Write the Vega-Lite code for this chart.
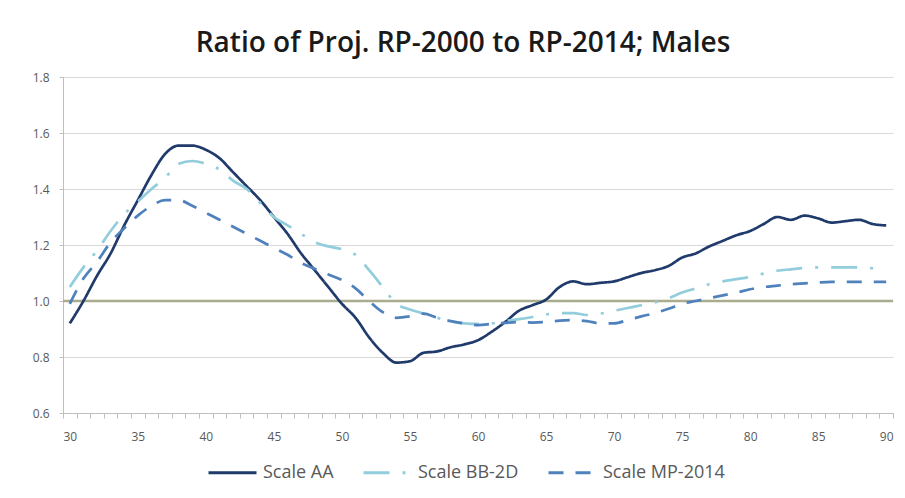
{
  "$schema": "https://vega.github.io/schema/vega-lite/v6.json",
  "autosize": {"type": "none"},
  "padding": {"left": 63, "top": 77, "right": 12, "bottom": 85},
  "width": 830,
  "height": 336,
  "background": "#ffffff",
  "title": {
    "text": "Ratio of Proj. RP-2000 to RP-2014; Males",
    "font": "Open Sans",
    "fontSize": 28,
    "fontWeight": 600,
    "color": "#1a1a1a",
    "anchor": "middle",
    "dx": -15,
    "offset": 13
  },
  "config": {
    "view": {"stroke": null},
    "axis": {
      "labelFont": "Open Sans",
      "labelFontSize": 12,
      "labelColor": "#595959",
      "domainColor": "#bfbfbf",
      "tickColor": "#bfbfbf",
      "gridColor": "#d9d9d9",
      "title": null
    },
    "legend": {
      "labelFont": "Open Sans",
      "labelFontSize": 18,
      "labelColor": "#595959"
    }
  },
  "data": {
    "values": [
      {"age": 30, "Scale AA": 0.92, "Scale BB-2D": 1.05, "Scale MP-2014": 0.99},
      {"age": 31, "Scale AA": 1.00, "Scale BB-2D": 1.12, "Scale MP-2014": 1.08},
      {"age": 32, "Scale AA": 1.09, "Scale BB-2D": 1.18, "Scale MP-2014": 1.14},
      {"age": 33, "Scale AA": 1.17, "Scale BB-2D": 1.25, "Scale MP-2014": 1.21},
      {"age": 34, "Scale AA": 1.27, "Scale BB-2D": 1.31, "Scale MP-2014": 1.26},
      {"age": 35, "Scale AA": 1.36, "Scale BB-2D": 1.355, "Scale MP-2014": 1.305},
      {"age": 36, "Scale AA": 1.45, "Scale BB-2D": 1.40, "Scale MP-2014": 1.34},
      {"age": 37, "Scale AA": 1.525, "Scale BB-2D": 1.44, "Scale MP-2014": 1.36},
      {"age": 38, "Scale AA": 1.555, "Scale BB-2D": 1.49, "Scale MP-2014": 1.36},
      {"age": 39, "Scale AA": 1.555, "Scale BB-2D": 1.50, "Scale MP-2014": 1.34},
      {"age": 40, "Scale AA": 1.54, "Scale BB-2D": 1.49, "Scale MP-2014": 1.315},
      {"age": 41, "Scale AA": 1.51, "Scale BB-2D": 1.47, "Scale MP-2014": 1.29},
      {"age": 42, "Scale AA": 1.46, "Scale BB-2D": 1.43, "Scale MP-2014": 1.265},
      {"age": 43, "Scale AA": 1.41, "Scale BB-2D": 1.40, "Scale MP-2014": 1.24},
      {"age": 44, "Scale AA": 1.36, "Scale BB-2D": 1.35, "Scale MP-2014": 1.215},
      {"age": 45, "Scale AA": 1.30, "Scale BB-2D": 1.30, "Scale MP-2014": 1.19},
      {"age": 46, "Scale AA": 1.24, "Scale BB-2D": 1.27, "Scale MP-2014": 1.165},
      {"age": 47, "Scale AA": 1.17, "Scale BB-2D": 1.24, "Scale MP-2014": 1.136},
      {"age": 48, "Scale AA": 1.11, "Scale BB-2D": 1.21, "Scale MP-2014": 1.115},
      {"age": 49, "Scale AA": 1.05, "Scale BB-2D": 1.195, "Scale MP-2014": 1.095},
      {"age": 50, "Scale AA": 0.99, "Scale BB-2D": 1.185, "Scale MP-2014": 1.075},
      {"age": 51, "Scale AA": 0.94, "Scale BB-2D": 1.165, "Scale MP-2014": 1.045},
      {"age": 52, "Scale AA": 0.87, "Scale BB-2D": 1.11, "Scale MP-2014": 1.00},
      {"age": 53, "Scale AA": 0.815, "Scale BB-2D": 1.05, "Scale MP-2014": 0.96},
      {"age": 54, "Scale AA": 0.78, "Scale BB-2D": 0.99, "Scale MP-2014": 0.94},
      {"age": 55, "Scale AA": 0.785, "Scale BB-2D": 0.97, "Scale MP-2014": 0.945},
      {"age": 56, "Scale AA": 0.815, "Scale BB-2D": 0.955, "Scale MP-2014": 0.955},
      {"age": 57, "Scale AA": 0.82, "Scale BB-2D": 0.94, "Scale MP-2014": 0.94},
      {"age": 58, "Scale AA": 0.835, "Scale BB-2D": 0.928, "Scale MP-2014": 0.928},
      {"age": 59, "Scale AA": 0.845, "Scale BB-2D": 0.92, "Scale MP-2014": 0.92},
      {"age": 60, "Scale AA": 0.86, "Scale BB-2D": 0.918, "Scale MP-2014": 0.914},
      {"age": 61, "Scale AA": 0.89, "Scale BB-2D": 0.92, "Scale MP-2014": 0.918},
      {"age": 62, "Scale AA": 0.925, "Scale BB-2D": 0.928, "Scale MP-2014": 0.922},
      {"age": 63, "Scale AA": 0.965, "Scale BB-2D": 0.935, "Scale MP-2014": 0.925},
      {"age": 64, "Scale AA": 0.985, "Scale BB-2D": 0.943, "Scale MP-2014": 0.923},
      {"age": 65, "Scale AA": 1.005, "Scale BB-2D": 0.952, "Scale MP-2014": 0.925},
      {"age": 66, "Scale AA": 1.05, "Scale BB-2D": 0.957, "Scale MP-2014": 0.93},
      {"age": 67, "Scale AA": 1.07, "Scale BB-2D": 0.957, "Scale MP-2014": 0.932},
      {"age": 68, "Scale AA": 1.06, "Scale BB-2D": 0.95, "Scale MP-2014": 0.928},
      {"age": 69, "Scale AA": 1.065, "Scale BB-2D": 0.955, "Scale MP-2014": 0.92},
      {"age": 70, "Scale AA": 1.07, "Scale BB-2D": 0.965, "Scale MP-2014": 0.92},
      {"age": 71, "Scale AA": 1.085, "Scale BB-2D": 0.975, "Scale MP-2014": 0.932},
      {"age": 72, "Scale AA": 1.10, "Scale BB-2D": 0.985, "Scale MP-2014": 0.945},
      {"age": 73, "Scale AA": 1.11, "Scale BB-2D": 0.995, "Scale MP-2014": 0.957},
      {"age": 74, "Scale AA": 1.125, "Scale BB-2D": 1.01, "Scale MP-2014": 0.972},
      {"age": 75, "Scale AA": 1.155, "Scale BB-2D": 1.03, "Scale MP-2014": 0.99},
      {"age": 76, "Scale AA": 1.17, "Scale BB-2D": 1.045, "Scale MP-2014": 1.00},
      {"age": 77, "Scale AA": 1.195, "Scale BB-2D": 1.06, "Scale MP-2014": 1.01},
      {"age": 78, "Scale AA": 1.215, "Scale BB-2D": 1.07, "Scale MP-2014": 1.02},
      {"age": 79, "Scale AA": 1.235, "Scale BB-2D": 1.078, "Scale MP-2014": 1.03},
      {"age": 80, "Scale AA": 1.25, "Scale BB-2D": 1.086, "Scale MP-2014": 1.042},
      {"age": 81, "Scale AA": 1.275, "Scale BB-2D": 1.098, "Scale MP-2014": 1.05},
      {"age": 82, "Scale AA": 1.30, "Scale BB-2D": 1.108, "Scale MP-2014": 1.055},
      {"age": 83, "Scale AA": 1.29, "Scale BB-2D": 1.113, "Scale MP-2014": 1.06},
      {"age": 84, "Scale AA": 1.305, "Scale BB-2D": 1.118, "Scale MP-2014": 1.063},
      {"age": 85, "Scale AA": 1.295, "Scale BB-2D": 1.12, "Scale MP-2014": 1.066},
      {"age": 86, "Scale AA": 1.28, "Scale BB-2D": 1.12, "Scale MP-2014": 1.068},
      {"age": 87, "Scale AA": 1.285, "Scale BB-2D": 1.12, "Scale MP-2014": 1.068},
      {"age": 88, "Scale AA": 1.29, "Scale BB-2D": 1.12, "Scale MP-2014": 1.068},
      {"age": 89, "Scale AA": 1.275, "Scale BB-2D": 1.117, "Scale MP-2014": 1.068},
      {"age": 90, "Scale AA": 1.27, "Scale BB-2D": 1.113, "Scale MP-2014": 1.068}
    ]
  },
  "layer": [
    {
      "data": {"values": [{"ref": 1.0}]},
      "mark": {"type": "rule", "color": "#a9ad8e", "strokeWidth": 2.5},
      "encoding": {
        "y": {"field": "ref", "type": "quantitative", "scale": {"domain": [0.6, 1.8]}}
      }
    },
    {
      "transform": [
        {"fold": ["Scale AA", "Scale BB-2D", "Scale MP-2014"], "as": ["series", "ratio"]}
      ],
      "mark": {"type": "line", "strokeWidth": 2.7, "interpolate": "monotone"},
      "encoding": {
        "x": {
          "field": "age",
          "type": "quantitative",
          "scale": {"domain": [29.5, 90.5], "nice": false, "zero": false},
          "axis": {
            "values": [29.5,30.5,31.5,32.5,33.5,34.5,35.5,36.5,37.5,38.5,39.5,40.5,41.5,42.5,43.5,44.5,45.5,46.5,47.5,48.5,49.5,50.5,51.5,52.5,53.5,54.5,55.5,56.5,57.5,58.5,59.5,60.5,61.5,62.5,63.5,64.5,65.5,66.5,67.5,68.5,69.5,70.5,71.5,72.5,73.5,74.5,75.5,76.5,77.5,78.5,79.5,80.5,81.5,82.5,83.5,84.5,85.5,86.5,87.5,88.5,89.5,90.5],
            "labelExpr": "datum.value % 5 == 4.5 ? format(datum.value + 0.5, 'd') : ''",
            "labelOffset": 6.8,
            "labelPadding": 13,
            "tickSize": 5,
            "grid": false,
            "labelFlush": false,
            "labelOverlap": false
          }
        },
        "y": {
          "field": "ratio",
          "type": "quantitative",
          "scale": {"domain": [0.6, 1.8], "nice": false, "zero": false},
          "axis": {
            "values": [0.6, 0.8, 1.0, 1.2, 1.4, 1.6, 1.8],
            "format": ".1f",
            "tickSize": 4,
            "labelPadding": 10,
            "grid": true
          }
        },
        "color": {
          "field": "series",
          "type": "nominal",
          "scale": {
            "domain": ["Scale AA", "Scale BB-2D", "Scale MP-2014"],
            "range": ["#1f3a6b", "#92cddc", "#4f81bd"]
          },
          "legend": {
            "title": null,
            "orient": "none",
            "direction": "horizontal",
            "legendX": 144,
            "legendY": 370,
            "symbolType": "stroke",
            "symbolSize": 2304,
            "symbolStrokeWidth": 3,
            "labelOffset": 5,
            "columnPadding": 23
          }
        },
        "strokeDash": {
          "field": "series",
          "type": "nominal",
          "scale": {
            "domain": ["Scale AA", "Scale BB-2D", "Scale MP-2014"],
            "range": [[1, 0], [26, 13, 3, 13], [15, 12]]
          },
          "legend": {
            "title": null,
            "orient": "none",
            "direction": "horizontal",
            "legendX": 144,
            "legendY": 370,
            "symbolType": "stroke",
            "symbolSize": 2304,
            "symbolStrokeWidth": 3,
            "labelOffset": 5,
            "columnPadding": 23
          }
        }
      }
    }
  ]
}
